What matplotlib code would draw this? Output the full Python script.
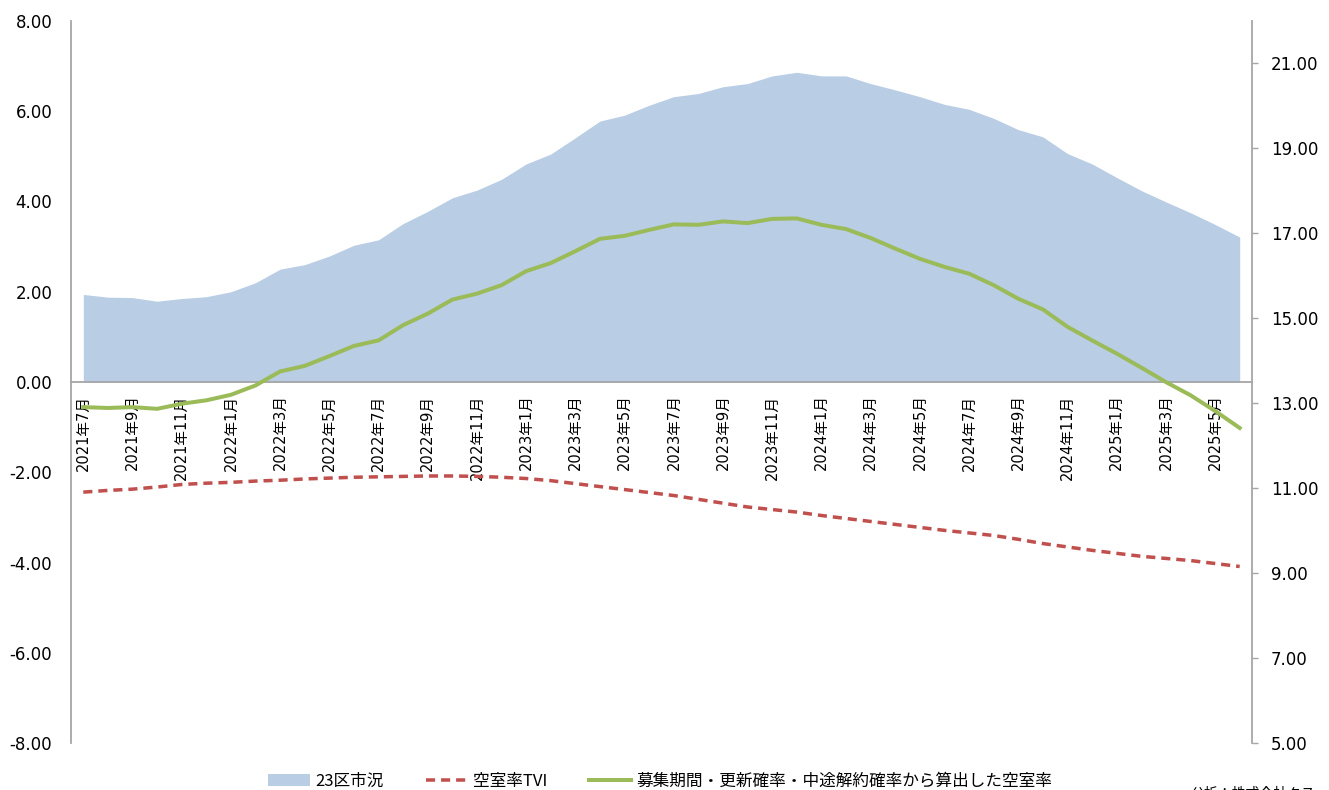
import matplotlib
matplotlib.use("Agg")
import matplotlib.pyplot as plt
from matplotlib.lines import Line2D
from matplotlib.patches import Patch
from matplotlib.font_manager import FontProperties

plt.rcParams['font.family'] = ['DejaVu Sans', 'Noto Sans CJK JP']

# 月次 2021年7月〜2025年6月
months = [f"{2021 + (6 + i) // 12}年{(6 + i) % 12 + 1}月" for i in range(48)]

# 23区市況（左軸）
market = [1.94, 1.88, 1.87, 1.79, 1.85, 1.89, 2.00, 2.20, 2.50, 2.60,
          2.79, 3.03, 3.15, 3.51, 3.78, 4.08, 4.25, 4.49, 4.83, 5.05,
          5.41, 5.78, 5.91, 6.13, 6.32, 6.39, 6.54, 6.61, 6.78, 6.86,
          6.78, 6.78, 6.61, 6.47, 6.32, 6.15, 6.04, 5.84, 5.59, 5.43,
          5.06, 4.83, 4.53, 4.24, 3.99, 3.75, 3.49, 3.21]

# 空室率TVI（右軸）
tvi = [10.91, 10.95, 10.98, 11.03, 11.09, 11.12, 11.14, 11.17, 11.19, 11.22,
       11.24, 11.26, 11.27, 11.28, 11.29, 11.29, 11.28, 11.26, 11.23, 11.18,
       11.11, 11.04, 10.97, 10.90, 10.83, 10.74, 10.65, 10.56, 10.50, 10.44,
       10.36, 10.29, 10.22, 10.15, 10.08, 10.01, 9.95, 9.89, 9.80, 9.70,
       9.62, 9.54, 9.47, 9.40, 9.35, 9.30, 9.23, 9.16]

# 募集期間・更新確率・中途解約確率から算出した空室率（右軸）
calc_rate = [12.91, 12.89, 12.91, 12.87, 12.99, 13.07, 13.20, 13.42, 13.75, 13.88,
             14.11, 14.35, 14.48, 14.84, 15.11, 15.44, 15.58, 15.78, 16.11, 16.30,
             16.58, 16.87, 16.94, 17.08, 17.21, 17.20, 17.28, 17.24, 17.34, 17.35,
             17.20, 17.10, 16.89, 16.64, 16.40, 16.21, 16.05, 15.78, 15.46, 15.21,
             14.80, 14.48, 14.17, 13.84, 13.50, 13.19, 12.82, 12.42]

labels = ['23区市況', '空室率TVI', '募集期間・更新確率・中途解約確率から算出した空室率']
c_area = '#B9CDE5'
c_tvi = '#C0504D'
c_calc = '#9BBB59'
grey = '#A6A6A6'

W, H = 1329, 790
fig = plt.figure(figsize=(W / 100, H / 100), dpi=100)
ax = fig.add_axes([71 / W, 1 - 743.3 / H, 1181 / W, 722.5 / H])
ax2 = ax.twinx()

x = list(range(len(months)))
ax.fill_between(x, 0, market, color=c_area, linewidth=0, zorder=1)
ax.set_ylim(-8, 8)
ax.set_xlim(-0.5, len(months) - 0.5)
ax.set_yticks(range(-8, 9, 2))
ax.set_yticklabels([f"{v:.2f}" for v in range(-8, 9, 2)], fontsize=12)
ax.tick_params(axis='y', length=0, pad=13.5)

# 横軸は0の位置に置く
ax.spines['bottom'].set_position(('data', 0))
ax.spines['bottom'].set_color(grey)
ax.spines['bottom'].set_linewidth(1.3)
ax.spines['bottom'].set_zorder(2)
ax.spines['left'].set_color(grey)
ax.spines['left'].set_linewidth(1.3)
ax.spines['top'].set_visible(False)
ax.spines['right'].set_visible(False)
ax.set_xticks(x[::2])
ax.set_xticklabels(months[::2], rotation=90, fontsize=10.5, va='top', ha='center')
ax.tick_params(axis='x', length=0, pad=9)

lw = 3.5 * 0.72
ax2.plot(x, tvi, color=c_tvi, linewidth=lw, dashes=(2.6, 1.7),
         dash_capstyle='butt', zorder=3)
ax2.plot(x, calc_rate, color=c_calc, linewidth=4 * 0.72, zorder=4,
         solid_joinstyle='round')
ax2.set_ylim(5, 22)
ax2.set_yticks(range(5, 22, 2))
ax2.set_yticklabels([f"{v:.2f}" for v in range(5, 22, 2)], fontsize=12)
ax2.tick_params(axis='y', length=4.5, width=1, color=grey, pad=9)
for s in ['top', 'bottom', 'left']:
    ax2.spines[s].set_visible(False)
ax2.spines['right'].set_color(grey)
ax2.spines['right'].set_linewidth(1.3)

handles = [Patch(facecolor=c_area, edgecolor='none'),
           Line2D([], [], color=c_tvi, linewidth=lw, dashes=(2.6, 1.7),
                  dash_capstyle='butt'),
           Line2D([], [], color=c_calc, linewidth=4 * 0.72)]
fig.legend(handles, labels, loc='center', bbox_to_anchor=(0.497, 1 - 781.5 / H),
           ncol=3, frameon=False, handlelength=2.5, handletextpad=0.35,
           columnspacing=2.5, borderpad=0,
           prop=FontProperties(family=['Noto Sans CJK JP'], size=12))

fig.text(1191 / W, 1 - 787 / H, '分析：株式会社タス', fontsize=10,
         family=['Noto Sans CJK JP'], va='top', ha='left')

fig.savefig('out.png', dpi=100)
